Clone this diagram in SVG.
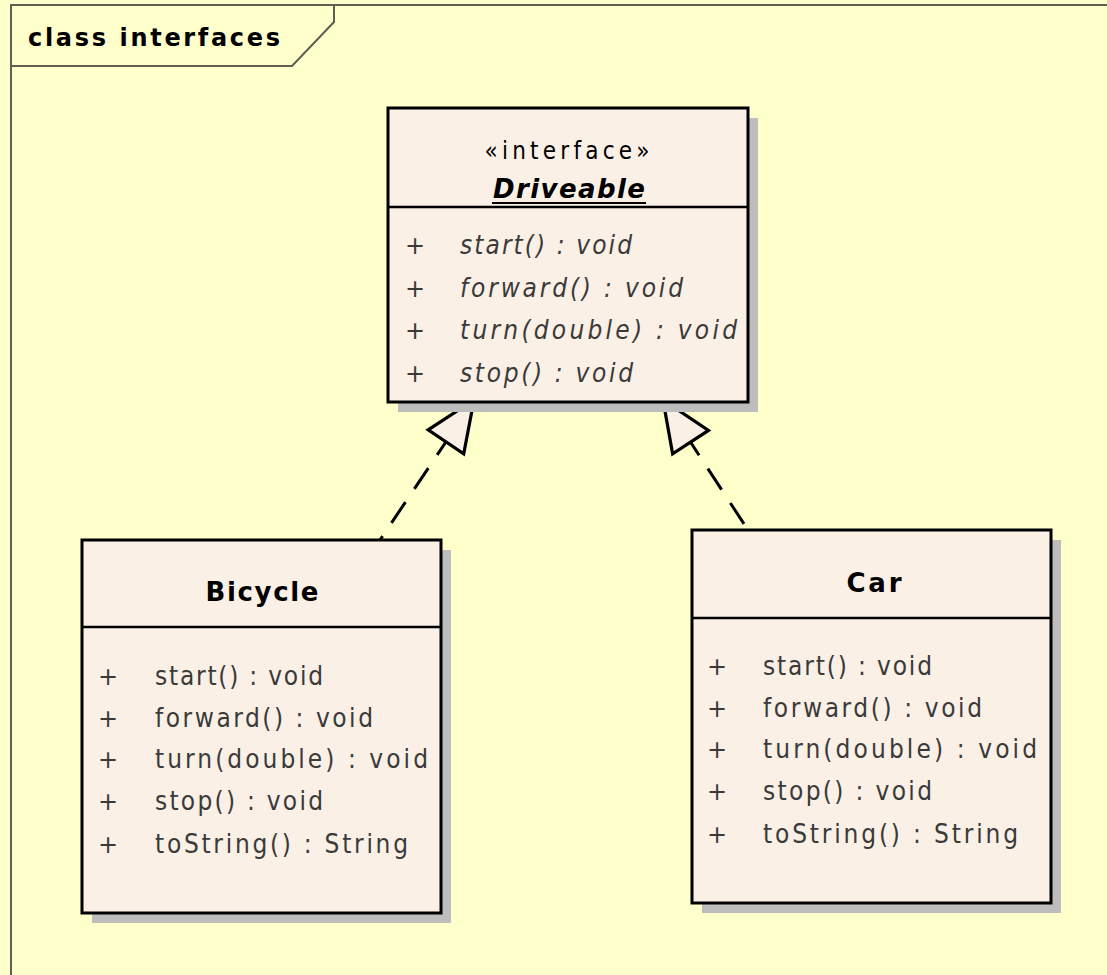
<svg xmlns="http://www.w3.org/2000/svg" width="1107" height="975" viewBox="0 0 1107 975">
<style>
.bg{fill:#FFFFCC}
.frame{fill:none;stroke:#5E5E52;stroke-width:2}
.shadow{fill:#BDBDBD}
.box{fill:#FAF0E6;stroke:#000;stroke-width:3}
.sep{stroke:#000;stroke-width:2.5}
.title{font-family:"DejaVu Sans",sans-serif;font-weight:bold;font-size:24px;fill:#000}
.hdr{font-family:"DejaVu Sans",sans-serif;font-weight:bold;font-size:26px;fill:#000;text-anchor:middle}
.stereo{font-family:"DejaVu Sans Condensed","DejaVu Sans",sans-serif;font-stretch:condensed;font-size:24px;fill:#000;text-anchor:middle}
.m{font-family:"DejaVu Sans Condensed","DejaVu Sans",sans-serif;font-stretch:condensed;font-size:26px;fill:#3A3A3A}
.mi{font-family:"DejaVu Sans Condensed","DejaVu Sans",sans-serif;font-stretch:condensed;font-size:26px;fill:#3A3A3A;font-style:italic}
.plus{font-family:"DejaVu Sans",sans-serif;font-size:24px;fill:#3A3A3A;text-anchor:middle}
.real{fill:none;stroke:#000;stroke-width:3;stroke-dasharray:25 16}
</style>
<defs>
<marker id="tri" markerUnits="userSpaceOnUse" orient="auto-start-reverse" refX="0" refY="0" markerWidth="60" markerHeight="60" viewBox="-52 -25 56 50" overflow="visible">
<path d="M0,0 L-47,-20 L-47,20 Z" fill="#FAF0E6" stroke="#000" stroke-width="3" stroke-linejoin="miter"/>
</marker>
</defs>
<rect class="bg" x="0" y="0" width="1107" height="975"/>
<g id="frame">
<path class="frame" d="M11,975 L11,5 L1107,5"/>
<path class="frame" d="M11,66 L292,66 L334,22 L334,5"/>
<text class="title" x="28" y="46" textLength="252" lengthAdjust="spacing">class interfaces</text>
</g>
<g id="connectors">
<path class="real" d="M474,400 L380,540" marker-start="url(#tri)"/>
<path class="real" d="M663,400 L748,530" marker-start="url(#tri)"/>
</g>
<g id="Driveable">
<rect class="shadow" x="398" y="118" width="360" height="294"/>
<rect class="box" x="388" y="108" width="360" height="294"/>
<line class="sep" x1="388" y1="207" x2="748" y2="207"/>
<text class="stereo" x="567" y="159" textLength="165" lengthAdjust="spacing">«interface»</text>
<text class="hdr" x="569" y="198" font-size="24" font-style="italic" textLength="152" lengthAdjust="spacing">Driveable</text>
<line x1="492" y1="203" x2="646" y2="203" stroke="#000" stroke-width="2"/>
<text class="plus" x="415" y="254">+</text>
<text class="plus" x="415" y="297">+</text>
<text class="plus" x="415" y="339">+</text>
<text class="plus" x="415" y="382">+</text>
<text class="mi" x="460" y="254" textLength="172" lengthAdjust="spacing">start() : void</text>
<text class="mi" x="460" y="297" textLength="223" lengthAdjust="spacing">forward() : void</text>
<text class="mi" x="460" y="339" textLength="277" lengthAdjust="spacing">turn(double) : void</text>
<text class="mi" x="460" y="382" textLength="173" lengthAdjust="spacing">stop() : void</text>
</g>
<g id="Bicycle">
<rect class="shadow" x="92" y="550" width="359" height="373"/>
<rect class="box" x="82" y="540" width="359" height="373"/>
<line class="sep" x1="82" y1="627" x2="441" y2="627"/>
<text class="hdr" x="262" y="601" textLength="113" lengthAdjust="spacing">Bicycle</text>
<text class="plus" x="108" y="685">+</text>
<text class="plus" x="108" y="727">+</text>
<text class="plus" x="108" y="768">+</text>
<text class="plus" x="108" y="810">+</text>
<text class="plus" x="108" y="853">+</text>
<text class="m" x="155" y="685" textLength="168" lengthAdjust="spacing">start() : void</text>
<text class="m" x="155" y="727" textLength="218" lengthAdjust="spacing">forward() : void</text>
<text class="m" x="155" y="768" textLength="273" lengthAdjust="spacing">turn(double) : void</text>
<text class="m" x="155" y="810" textLength="168" lengthAdjust="spacing">stop() : void</text>
<text class="m" x="155" y="853" textLength="253" lengthAdjust="spacing">toString() : String</text>
</g>
<g id="Car">
<rect class="shadow" x="702" y="540" width="359" height="373"/>
<rect class="box" x="692" y="530" width="359" height="373"/>
<line class="sep" x1="692" y1="618" x2="1051" y2="618"/>
<text class="hdr" x="874" y="592" textLength="55" lengthAdjust="spacing">Car</text>
<text class="plus" x="717" y="675">+</text>
<text class="plus" x="717" y="717">+</text>
<text class="plus" x="717" y="758">+</text>
<text class="plus" x="717" y="800">+</text>
<text class="plus" x="717" y="843">+</text>
<text class="m" x="763" y="675" textLength="169" lengthAdjust="spacing">start() : void</text>
<text class="m" x="763" y="717" textLength="219" lengthAdjust="spacing">forward() : void</text>
<text class="m" x="763" y="758" textLength="274" lengthAdjust="spacing">turn(double) : void</text>
<text class="m" x="763" y="800" textLength="169" lengthAdjust="spacing">stop() : void</text>
<text class="m" x="763" y="843" textLength="255" lengthAdjust="spacing">toString() : String</text>
</g>
</svg>
